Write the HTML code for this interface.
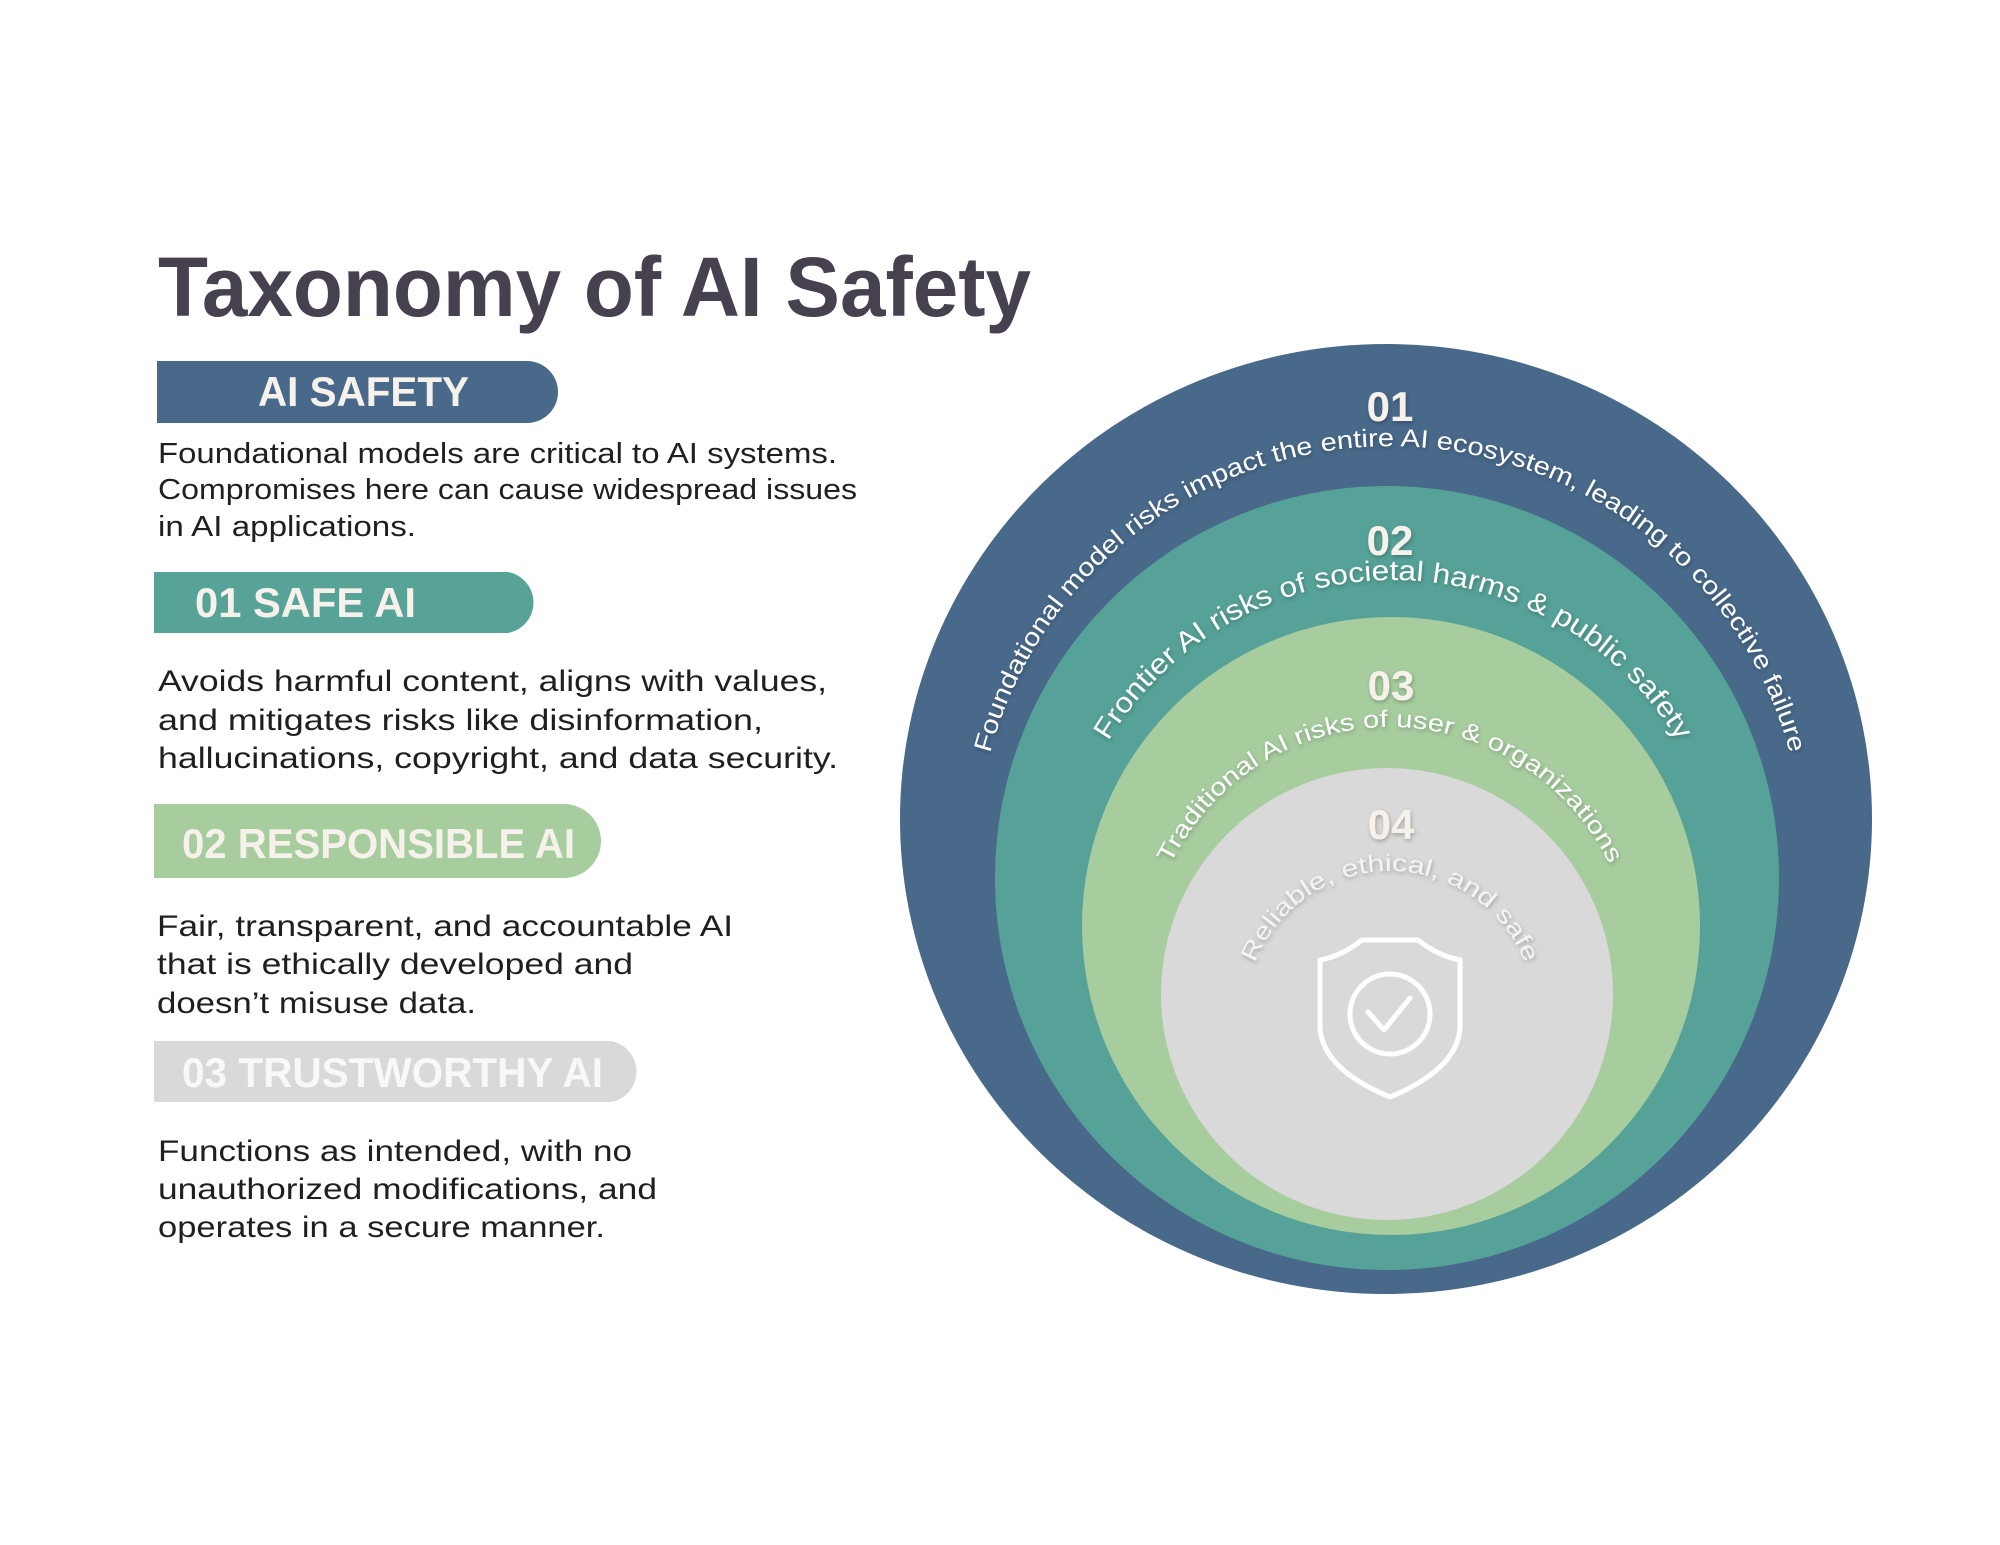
<!DOCTYPE html>
<html><head><meta charset="utf-8"><style>
html,body{margin:0;padding:0;background:#fff;}
svg{display:block}
</style></head><body>
<svg width="2000" height="1545" viewBox="0 0 2000 1545" xmlns="http://www.w3.org/2000/svg">
<defs>
<filter id="sh" x="-20%" y="-20%" width="140%" height="140%"><feDropShadow dx="1" dy="2" stdDeviation="2" flood-color="#000" flood-opacity="0.25"/></filter>
<path id="a1" d="M 976 860 A 414 414 0 0 1 1804 860"/>
<path id="a2" d="M 1061 912 A 332 332 0 0 1 1725 912"/>
<path id="a3" d="M 1146 971 A 244 244 0 0 1 1634 971"/>
<path id="a4" d="M 1245 1016 A 145 145 0 0 1 1535 1016"/>
</defs>
<rect width="2000" height="1545" fill="#fff"/>
<g font-family="Liberation Sans, sans-serif">
<text x="158" y="316" font-size="84" font-weight="bold" fill="#46404f" textLength="873" lengthAdjust="spacingAndGlyphs">Taxonomy of AI Safety</text>

<path d="M157 361 H527 A31 31 0 0 1 527 423 H157 Z" fill="#48698a"/>
<text x="258" y="406" font-size="42" font-weight="bold" fill="#f6f1ea" textLength="211" lengthAdjust="spacingAndGlyphs">AI SAFETY</text>
<g font-size="29" fill="#1f1f1f">
<text x="158" y="463" textLength="679" lengthAdjust="spacingAndGlyphs">Foundational models are critical to AI systems.</text>
<text x="158" y="499" textLength="699" lengthAdjust="spacingAndGlyphs">Compromises here can cause widespread issues</text>
<text x="158" y="536" textLength="258" lengthAdjust="spacingAndGlyphs">in AI applications.</text>
</g>

<path d="M154 572 H508 A31 31 0 0 1 508 633 H154 Z" fill="#57a398"/>
<text x="195" y="617" font-size="42" font-weight="bold" fill="#f6f1ea" textLength="221" lengthAdjust="spacingAndGlyphs">01 SAFE AI</text>
<g font-size="30" fill="#1f1f1f">
<text x="158" y="691" textLength="669" lengthAdjust="spacingAndGlyphs">Avoids harmful content, aligns with values,</text>
<text x="158" y="730" textLength="605" lengthAdjust="spacingAndGlyphs">and mitigates risks like disinformation,</text>
<text x="158" y="768" textLength="680" lengthAdjust="spacingAndGlyphs">hallucinations, copyright, and data security.</text>
</g>

<path d="M154 804 H564 A37 37 0 0 1 564 878 H154 Z" fill="#a7cd9f"/>
<text x="182" y="858" font-size="42" font-weight="bold" fill="#f6f1ea" textLength="393" lengthAdjust="spacingAndGlyphs">02  RESPONSIBLE AI</text>
<g font-size="30" fill="#1f1f1f">
<text x="157" y="936" textLength="576" lengthAdjust="spacingAndGlyphs">Fair, transparent, and accountable AI</text>
<text x="157" y="974" textLength="476" lengthAdjust="spacingAndGlyphs">that is ethically developed and</text>
<text x="157" y="1013" textLength="319" lengthAdjust="spacingAndGlyphs">doesn’t misuse data.</text>
</g>

<path d="M154 1041 H611 A31 31 0 0 1 611 1102 H154 Z" fill="#d9d9d9"/>
<text x="182" y="1087" font-size="42" font-weight="bold" fill="#f8f8f8" textLength="421" lengthAdjust="spacingAndGlyphs">03  TRUSTWORTHY AI</text>
<g font-size="30" fill="#1f1f1f">
<text x="158" y="1161" textLength="474" lengthAdjust="spacingAndGlyphs">Functions as intended, with no</text>
<text x="158" y="1199" textLength="499" lengthAdjust="spacingAndGlyphs">unauthorized modifications, and</text>
<text x="158" y="1237" textLength="447" lengthAdjust="spacingAndGlyphs">operates in a secure manner.</text>
</g>

<ellipse cx="1386" cy="819" rx="486" ry="475" fill="#48698a"/>
<circle cx="1387" cy="878" r="392" fill="#56a298"/>
<circle cx="1391" cy="926" r="309" fill="#a7cd9f"/>
<circle cx="1387" cy="994" r="226" fill="#d9d9d9"/>

<g font-weight="bold" font-size="42" fill="#f6f1ea" text-anchor="middle" filter="url(#sh)">
<text x="1390" y="421">01</text>
<text x="1390" y="555">02</text>
<text x="1391" y="700">03</text>
<text x="1391" y="839">04</text>
</g>

<g fill="#ffffff" filter="url(#sh)">
<text font-size="25"><textPath href="#a1" startOffset="50%" text-anchor="middle" textLength="1084" lengthAdjust="spacingAndGlyphs">Foundational model risks impact the entire AI ecosystem, leading to collective failure</textPath></text>
<text font-size="28"><textPath href="#a2" startOffset="50%" text-anchor="middle" textLength="684" lengthAdjust="spacingAndGlyphs">Frontier AI risks of societal harms &amp; public safety</textPath></text>
<text font-size="24"><textPath href="#a3" startOffset="50%" text-anchor="middle" textLength="545" lengthAdjust="spacingAndGlyphs">Traditional AI risks of user &amp; organizations</textPath></text>
<text font-size="24" fill="#f4f4f4"><textPath href="#a4" startOffset="50%" text-anchor="middle" textLength="347" lengthAdjust="spacingAndGlyphs">Reliable, ethical, and safe</textPath></text>
</g>

<g fill="none" stroke="#ffffff" stroke-width="5" stroke-linejoin="round" stroke-linecap="round">
<path d="M1362 940 H1418 Q1438 956 1460 960 V1025 Q1460 1068 1390 1097 Q1320 1068 1320 1025 V960 Q1342 956 1362 940 Z"/>
<circle cx="1390" cy="1014" r="40"/>
<path d="M1368 1012 L1384 1030 L1410 998"/>
</g>
</g>
</svg>
</body></html>
